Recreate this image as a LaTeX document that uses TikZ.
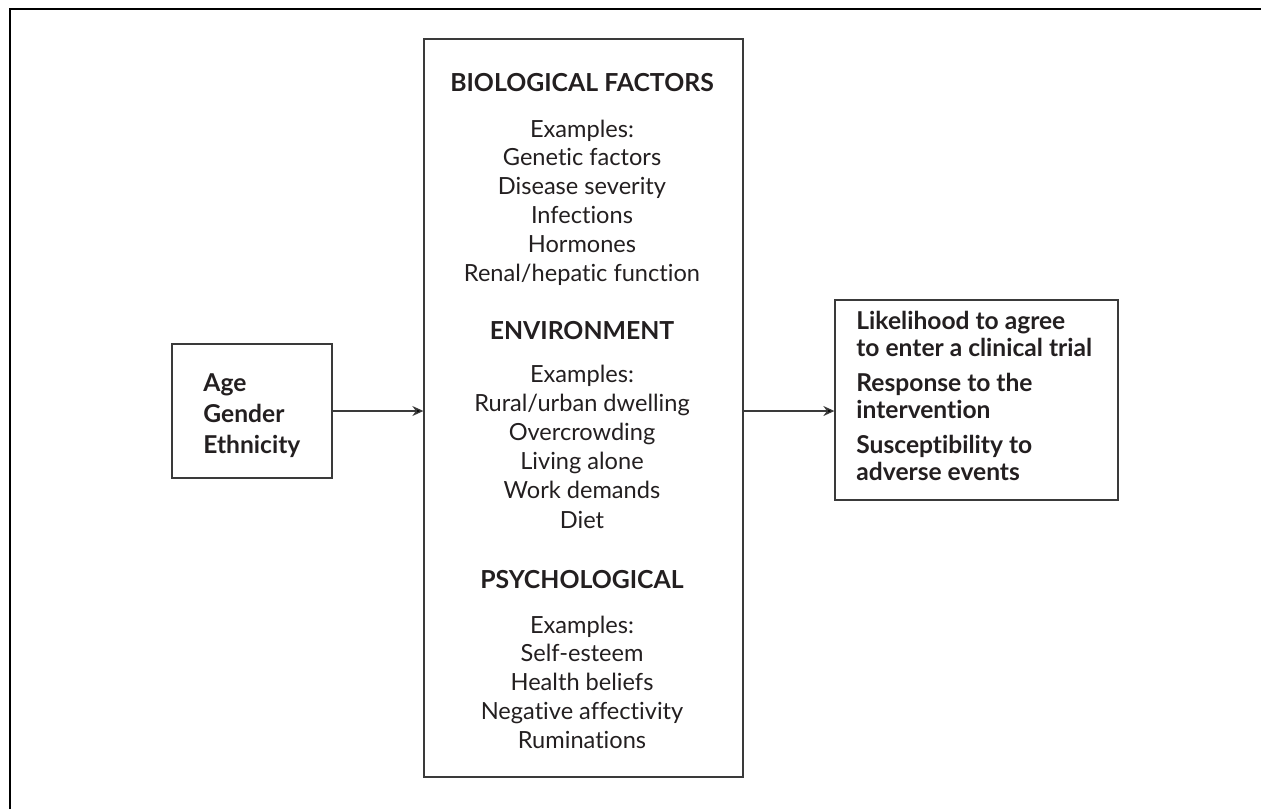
\documentclass[tikz,border=0pt]{standalone}
\usepackage{fontspec}
\setmainfont{Lato}[Ligatures=NoCommon]
\usetikzlibrary{arrows.meta}
\definecolor{ink}{HTML}{231F20}
\definecolor{rule}{HTML}{3A3A3A}
\tikzset{
  box/.style={draw=rule, line width=0.65pt, inner sep=0pt},
  head/.style={font=\fontsize{12.4}{14}\selectfont\bfseries, text=ink, inner sep=0pt, anchor=base},
  item/.style={font=\fontsize{11.8}{14}\selectfont, text=ink, inner sep=0pt, anchor=base},
  side/.style={font=\fontsize{12.3}{14}\selectfont\bfseries, text=ink, inner sep=0pt, anchor=base west},
  arr/.style={draw=rule, line width=0.65pt, -{Stealth[length=5.5pt,width=5pt,fill=black]}}
}

\begin{document}
\begin{tikzpicture}[x=0.5pt,y=-0.5pt]
	\useasboundingbox (0,0) rectangle (1261,809);
	%Frame
		\draw[black, line width=0.75pt] (10,809) -- (10,9) -- (1261,9);
	%Boxes
		\node[box, minimum width=80pt, minimum height=67pt] (traits) at (252,411) {};
		\node[box, minimum width=159.5pt, minimum height=369pt] (factors) at (583.5,408) {};
		\node[box, minimum width=141.5pt, minimum height=100pt] (outcome) at (976.5,400) {};
	%Left box
		\node[side] (age) at (203,391.7) {Age};
		\node[side] (gender) at (203,422.7) {Gender};
		\node[side] (ethnic) at (203,453.5) {Ethnicity};
	%Biological
		\node[head] (bio) at (582,91) {BIOLOGICAL FACTORS};
		\foreach \txt [count=\i] in {Examples:,Genetic factors,Disease severity,Infections,Hormones,Renal/hepatic function}
		{
			\node[item] (bio\i) at (582,{137+28.8*(\i-1)}) {\txt};
		}
	%Environment
		\node[head] (env) at (582,339) {ENVIRONMENT};
		\foreach \txt [count=\i] in {Examples:,Rural/urban dwelling,Overcrowding,Living alone,Work demands,Diet}
		{
			\node[item] (env\i) at (582,{382+29.2*(\i-1)}) {\txt};
		}
	%Psychological
		\node[head] (psy) at (582,588) {PSYCHOLOGICAL};
		\foreach \txt [count=\i] in {Examples:,Self-esteem,Health beliefs,Negative affectivity,Ruminations}
		{
			\node[item] (psy\i) at (582,{633+28.75*(\i-1)}) {\txt};
		}
	%Right box
		\node[side] (likely) at (856,329) {Likelihood to agree};
		\node[side] (enter) at (856,356) {to enter a clinical trial};
		\node[side] (resp) at (856,391) {Response to the};
		\node[side] (interv) at (856,418) {intervention};
		\node[side] (suscept) at (856,453) {Susceptibility to};
		\node[side] (adverse) at (856,480) {adverse events};
	%Arrows
		\draw[arr] (traits.east) -- (traits.east -| factors.west);
		\draw[arr] (traits.east -| factors.east) -- (traits.east -| outcome.west);
\end{tikzpicture}
\end{document}
